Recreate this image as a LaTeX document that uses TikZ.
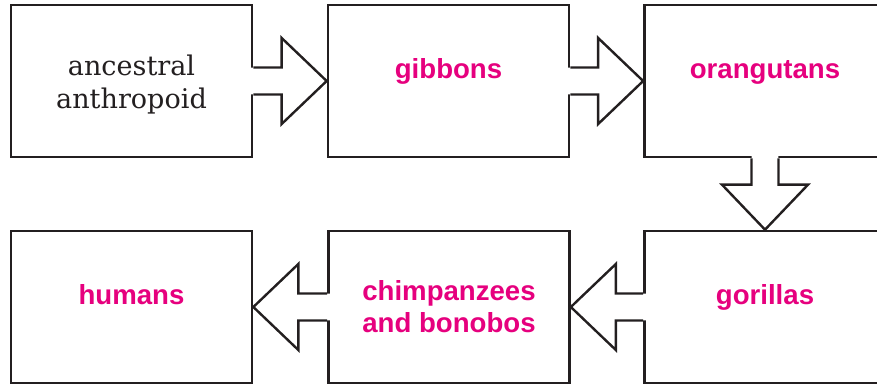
\documentclass[tikz,border=0pt]{standalone}
\usepackage{fontspec}
\setmainfont{DejaVu Serif}
\setsansfont{Liberation Sans}
\usetikzlibrary{calc}
\definecolor{chPink}{HTML}{E6007E}
\definecolor{chLine}{HTML}{231F20}
\tikzset{
  ch/.style={x=0.75pt, y=-0.75pt, line join=miter},
  box/.style={draw=chLine, line width=2pt, fill=white, minimum width=180.75pt, minimum height=114pt, inner sep=0pt, align=center},
  ape/.style={box, font=\sffamily\bfseries\fontsize{20.7}{24}\selectfont, text=chPink},
  one/.style={text height=8pt, text depth=12pt},
  root/.style={box, font=\fontsize{20.3}{24.75}\selectfont, text=chLine, text height=44pt, text depth=3.5pt},
  arr/.style={draw=chLine, line width=1.8pt},
}
% block arrow: shaft leaves #1, tip touches #2
\newcommand{\evoArrow}[2]{%
  \coordinate (s) at ($(#1)!-4pt!(#2)$);
  \coordinate (h) at ($(#2)!33.75pt!(#1)$);
  \fill[white] ($(s)!10.1pt!90:(#2)$) -- ($(h)!10.1pt!90:(#2)$) -- ($(h)!32.25pt!90:(#2)$) -- (#2)
    -- ($(h)!32.25pt!-90:(#2)$) -- ($(h)!10.1pt!-90:(#2)$) -- ($(s)!10.1pt!-90:(#2)$) -- cycle;
  \draw[arr] ($(#1)!10.1pt!90:(#2)$) -- ($(h)!10.1pt!90:(#2)$) -- ($(h)!32.25pt!90:(#2)$) -- (#2)
    -- ($(h)!32.25pt!-90:(#2)$) -- ($(h)!10.1pt!-90:(#2)$) -- ($(#1)!10.1pt!-90:(#2)$);
}

\begin{document}
\begin{tikzpicture}[ch]
\useasboundingbox (0,0) rectangle (877,383);
\clip (0,0) rectangle (877,383);

\node[root] (anc) at (131.5,81) {ancestral\\anthropoid};
\node[ape, one] (gib) at (448.5,81) {gibbons};
\node[ape, one] (ora) at (765,81) {orangutans};
\node[ape, one] (gor) at (765,307) {gorillas};
\node[ape] (chi) at (449,307) {chimpanzees\\and bonobos};
\node[ape, one] (hum) at (131.5,307) {humans};

\foreach \a/\b in {anc.east/gib.west, gib.east/ora.west, ora.south/gor.north,
                   gor.west/chi.east, chi.west/hum.east}
  \evoArrow{\a}{\b};
\end{tikzpicture}
\end{document}
